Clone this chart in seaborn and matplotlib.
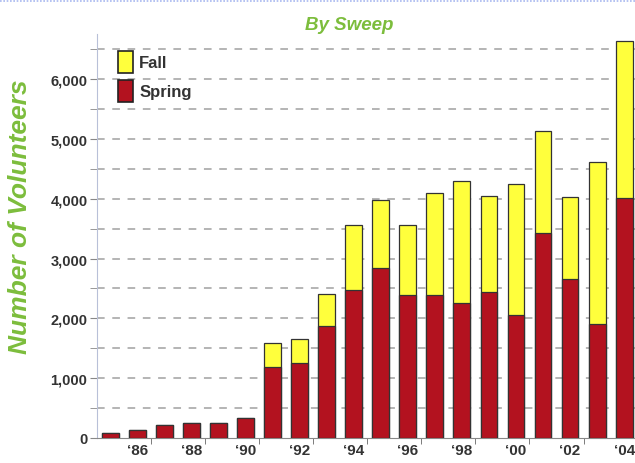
import pandas as pd
import matplotlib.pyplot as plt
import seaborn as sns
from matplotlib.ticker import MultipleLocator, FuncFormatter
from matplotlib.patches import Patch

# Volunteers per year
years = list(range(1985, 2005))
spring = [90, 130, 210, 250, 250, 330, 1190, 1250, 1870, 2470, 2840, 2390, 2390,
          2260, 2440, 2060, 3420, 2650, 1910, 4020]
total = [90, 130, 210, 250, 250, 330, 1590, 1650, 2400, 3560, 3980, 3560, 4100,
         4290, 4050, 4250, 5140, 4030, 4610, 6640]

df = pd.DataFrame({"year": [str(y) for y in years], "spring": spring, "total": total})

sns.set_style("white")
plt.rcParams["font.family"] = ["Liberation Sans", "DejaVu Sans"]

fig = plt.figure(figsize=(6.35, 4.64), dpi=100)
ax = fig.add_axes([0.153, 0.054, 0.847, 0.87])

yellow = "#ffff3c"
red = "#b3121f"
green = "#7cbd3c"

# gridlines behind bars
for v in range(500, 7000, 500):
    ax.axhline(v, color="#a0a0a0", lw=1.1, ls=(0, (5, 5)), zorder=0)

sns.barplot(data=df, x="year", y="total", color=yellow, width=0.62,
            edgecolor="#333333", linewidth=0.9, saturation=1, ax=ax, zorder=2)
sns.barplot(data=df, x="year", y="spring", color=red, width=0.62,
            edgecolor="#333333", linewidth=0.9, saturation=1, ax=ax, zorder=3)

ax.set_xlim(-0.48, 19.4)
ax.set_ylim(0, 6750)

ax.yaxis.set_major_locator(MultipleLocator(1000))
ax.yaxis.set_minor_locator(MultipleLocator(500))
ax.yaxis.set_major_formatter(FuncFormatter(lambda v, p: f"{int(v):,}"))
ax.tick_params(axis="y", which="both", left=True, length=5, color="#888888",
               labelsize=10.5, labelcolor="#333333", pad=2)
for t in ax.get_yticklabels():
    t.set_fontweight("bold")

ax.set_xticks(range(1, 20, 2))
ax.set_xticklabels([f"\u2018{str(y)[2:]}" for y in years[1::2]],
                   fontsize=11, fontweight="bold", color="#333333")
ax.set_xticks([i + 0.5 for i in range(1, 19, 2)], minor=True)
ax.tick_params(axis="x", which="major", length=0, pad=4)
ax.tick_params(axis="x", which="minor", bottom=True, length=4, color="#666666")

for s in ["top", "right"]:
    ax.spines[s].set_visible(False)
ax.spines["left"].set_color("#b8c0d8")
ax.spines["bottom"].set_color("#888888")

ax.set_xlabel("")
ax.set_ylabel("Number of Volunteers", color=green, fontsize=19,
              fontweight="bold", style="italic")
ax.yaxis.set_label_coords(-0.122, 0.55)
fig.text(0.55, 0.945, "By Sweep", color=green, fontsize=13.5, fontweight="bold",
         style="italic", ha="center", va="center")

# legend
handles = [Patch(facecolor=yellow, edgecolor="#222222", lw=1.2, label="Fall"),
           Patch(facecolor=red, edgecolor="#222222", lw=1.2, label="Spring")]
leg = ax.legend(handles=handles, loc="upper left", bbox_to_anchor=(0.01, 0.995),
                frameon=False, handlelength=0.9, handleheight=1.6,
                handletextpad=0.4, labelspacing=0.45,
                prop={"weight": "bold", "size": 12})
for t in leg.get_texts():
    t.set_color("#333333")

fig.add_artist(plt.Line2D([0, 1], [0.996, 0.996], color="#a8b8f0", lw=1.2,
                          ls=(0, (1, 1))))

fig.savefig("out.png", dpi=100)
